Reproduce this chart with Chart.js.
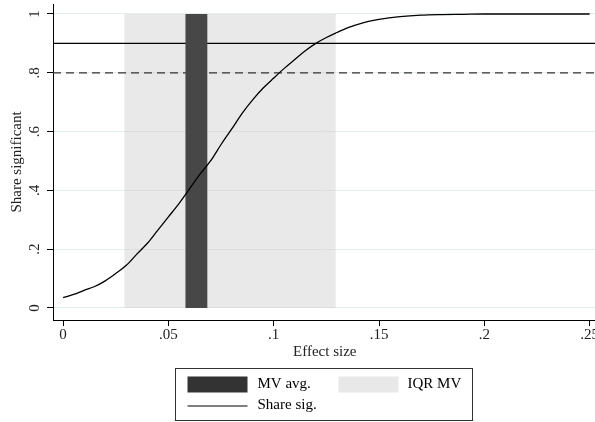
<!DOCTYPE html>
<html>
<head>
<meta charset="utf-8">
<script src="https://cdn.jsdelivr.net/npm/chart.js@4"></script>
<style>
  html, body { margin: 0; padding: 0; background: #fff; overflow: hidden; }
  #wrap { width: 599px; height: 422px; }
</style>
</head>
<body>
<div id="wrap"><canvas id="chart"></canvas></div>
<script>
// effect size grid and share of significant estimates
const effectSize = [0, .005, .01, .015, .02, .025, .03, .035, .04, .045, .05, .055, .06, .065, .07, .075, .08, .085, .09, .095,
  .1, .105, .11, .115, .12, .125, .13, .135, .14, .145, .15, .16, .17, .18, .19, .2, .21, .22, .23, .24, .25];
const shareSig = [.035, .046, .060, .073, .092, .117, .145, .183, .22, .265, .31, .355, .405, .455, .50, .556, .608, .662, .708, .748,
  .782, .815, .845, .875, .90, .92, .937, .953, .965, .975, .982, .991, .996, .998, .999, 1, 1, 1, 1, 1, 1];

// MV average band and interquartile range of MV
const mvAvg = [0.058, 0.0686];
const iqrMv = [0.029, 0.1295];
// power reference lines
const refSolid = 0.9;
const refDashed = 0.8;

const xTicks = [0, .05, .1, .15, .2, .25];
const xLabels = ['0', '.05', '.1', '.15', '.2', '.25'];
const yTicks = [0, .2, .4, .6, .8, 1];
const yLabels = ['0', '.2', '.4', '.6', '.8', '1'];

const xMin = -0.0048, xMax = 0.2533;
const yMin = -0.041, yMax = 1.034;

const serif = '"Liberation Serif", "DejaVu Serif", serif';

const band = (range) => range.map(v => ({ x: v, y: 1 }));
const hline = (y) => [{ x: xMin, y: y }, { x: xMax, y: y }];

// rotated y tick labels, the way Stata prints them
const yTickLabels = {
  id: 'yTickLabels',
  afterDraw(chart) {
    const c = chart.ctx;
    const s = chart.scales.y;
    c.save();
    c.fillStyle = '#222';
    c.font = '15px ' + serif;
    c.textAlign = 'center';
    c.textBaseline = 'middle';
    yTicks.forEach((v, i) => {
      c.save();
      c.translate(s.right - 18, s.getPixelForValue(v));
      c.rotate(-Math.PI / 2);
      c.fillText(yLabels[i], 0, 0);
      c.restore();
    });
    c.restore();
  }
};

// Stata style legend box under the plot
const legendBox = {
  id: 'legendBox',
  afterDraw(chart) {
    const c = chart.ctx;
    const w = 297, h = 52;
    const left = 175.5;
    const top = 368.5;
    c.save();
    c.strokeStyle = '#333';
    c.lineWidth = 1;
    c.strokeRect(left, top, w, h);
    c.fillStyle = '#333';
    c.fillRect(left + 12, top + 8, 60, 16);
    c.fillStyle = '#e8e8e8';
    c.fillRect(left + 163, top + 8, 60, 16);
    c.strokeStyle = '#000';
    c.beginPath();
    c.moveTo(left + 12, top + 37.5);
    c.lineTo(left + 72, top + 37.5);
    c.stroke();
    c.fillStyle = '#000';
    c.font = '15px ' + serif;
    c.textBaseline = 'middle';
    c.fillText('MV avg.', left + 82, top + 16);
    c.fillText('IQR MV', left + 232, top + 16);
    c.fillText('Share sig.', left + 82, top + 37);
    c.restore();
  }
};

new Chart(document.getElementById('chart'), {
  type: 'line',
  data: {
    datasets: [
      { label: 'Share sig.', order: 1, data: effectSize.map((x, i) => ({ x: x, y: shareSig[i] })),
        borderColor: '#000', borderWidth: 1.3, pointRadius: 0, fill: false, cubicInterpolationMode: 'monotone' },
      { label: 'MV avg.', order: 2, data: band(mvAvg), fill: 'origin', backgroundColor: '#474747', borderWidth: 0, pointRadius: 0 },
      { label: 'ref .8', order: 3, data: hline(refDashed), borderColor: '#333', borderWidth: 1.2, borderDash: [8, 5], pointRadius: 0, fill: false },
      { label: 'ref .9', order: 4, data: hline(refSolid), borderColor: '#000', borderWidth: 1.2, pointRadius: 0, fill: false },
      { label: 'IQR MV', order: 5, data: band(iqrMv), fill: 'origin', backgroundColor: 'rgba(200,200,200,0.4)', borderWidth: 0, pointRadius: 0 }
    ]
  },
  options: {
    responsive: true,
    maintainAspectRatio: false,
    animation: false,
    layout: { padding: { top: 4, left: 8, right: 0, bottom: 61 } },
    plugins: { legend: { display: false }, tooltip: { enabled: false } },
    scales: {
      x: {
        type: 'linear',
        min: xMin, max: xMax,
        afterBuildTicks: (s) => { s.ticks = xTicks.map(v => ({ value: v })); },
        border: { color: '#000', width: 1 },
        grid: { drawOnChartArea: false, tickLength: 6, color: '#000' },
        ticks: {
          color: '#222', font: { family: serif, size: 15 }, padding: 0, maxRotation: 0,
          callback: (v) => xLabels[xTicks.indexOf(v)]
        },
        title: { display: true, text: 'Effect size', color: '#222', font: { family: serif, size: 15 }, padding: { top: -1, bottom: 0 } }
      },
      y: {
        min: yMin, max: yMax,
        afterBuildTicks: (s) => { s.ticks = yTicks.map(v => ({ value: v })); },
        border: { color: '#000', width: 1 },
        grid: { color: '#e4edef', lineWidth: 1, tickLength: 6, tickColor: '#000' },
        ticks: { display: false },
        title: { display: true, text: 'Share significant', color: '#222', font: { family: serif, size: 15 }, padding: { top: 0, bottom: 21 } }
      }
    }
  },
  plugins: [yTickLabels, legendBox]
});
</script>
</body>
</html>
